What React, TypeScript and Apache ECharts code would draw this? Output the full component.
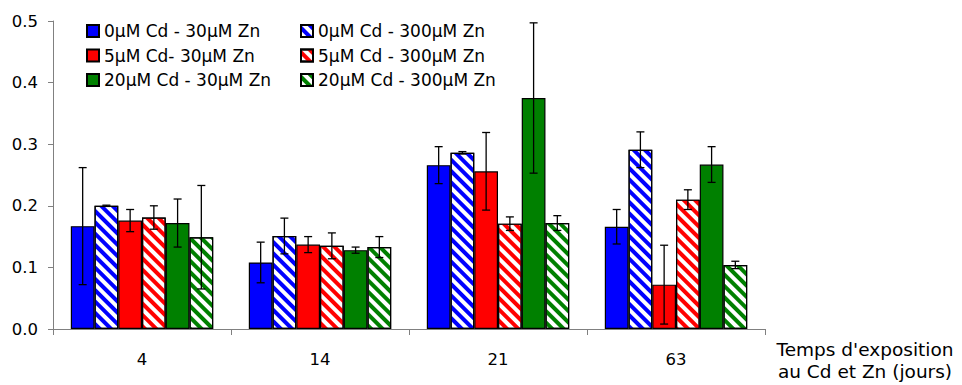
import React, { useEffect, useRef } from "react";
import * as echarts from "echarts";

const categories = ["4", "14", "21", "63"];
const seriesNames = [
  "0µM Cd - 30µM Zn",
  "0µM Cd - 300µM Zn",
  "5µM Cd- 30µM Zn",
  "5µM Cd - 300µM Zn",
  "20µM Cd - 30µM Zn",
  "20µM Cd - 300µM Zn",
];
const cd0zn30 = [0.167, 0.108, 0.266, 0.166];
const cd0zn300 = [0.2, 0.151, 0.286, 0.291];
const cd5zn30 = [0.176, 0.137, 0.256, 0.072];
const cd5zn300 = [0.181, 0.135, 0.171, 0.21];
const cd20zn30 = [0.172, 0.128, 0.375, 0.267];
const cd20zn300 = [0.149, 0.133, 0.172, 0.104];
const err0_30 = [0.095, 0.033, 0.03, 0.028];
const err0_300 = [0.001, 0.029, 0.002, 0.029];
const err5_30 = [0.018, 0.013, 0.063, 0.064];
const err5_300 = [0.019, 0.021, 0.011, 0.016];
const err20_30 = [0.039, 0.005, 0.122, 0.029];
const err20_300 = [0.084, 0.017, 0.012, 0.006];
const yTicks = [0, 0.1, 0.2, 0.3, 0.4, 0.5];
const xAxisTitle = "Temps d'exposition\nau Cd et Zn (jours)";

const FONT = "DejaVu Sans";

export default function App() {
  const ref = useRef<HTMLDivElement>(null);
  useEffect(() => {
    if (!ref.current) return;
    const chart = echarts.init(ref.current, null, { renderer: "svg" });
    const values = [cd0zn30, cd0zn300, cd5zn30, cd5zn300, cd20zn30, cd20zn300];
    const errors = [err0_30, err0_300, err5_30, err5_300, err20_30, err20_300];
    const colors = ["#0000ff", "#0000ff", "#ff0000", "#ff0000", "#008000", "#008000"];
    const hatched = [false, true, false, true, false, true];
    const n = values.length;

    const barSeries = values.map((vals, i) => ({
      name: seriesNames[i],
      type: "bar",
      data: vals,
      barGap: "0%",
      barCategoryGap: "20%",
      itemStyle: hatched[i]
        ? {
            color: "#ffffff",
            borderColor: "#000",
            borderWidth: 1.2,
            decal: {
              symbol: "rect",
              symbolSize: 1,
              color: colors[i],
              dashArrayX: [1, 0],
              dashArrayY: [3.2, 3.2],
              rotation: Math.PI / 4,
            },
          }
        : { color: colors[i], borderColor: "#000", borderWidth: 1.2 },
      z: 2,
    }));

    const errSeries = values.map((vals, i) => ({
      name: "err" + i,
      type: "custom",
      z: 5,
      data: vals.map((v, k) => [k, v - errors[i][k], v + errors[i][k]]),
      renderItem: (params: any, api: any) => {
        const k = api.value(0);
        const lo = api.coord([k, api.value(1)]);
        const hi = api.coord([k, api.value(2)]);
        const band = api.size([1, 0])[0];
        const bw = (band * 0.8) / n;
        const x = lo[0] - (band * 0.8) / 2 + bw * (i + 0.5);
        const cap = 4;
        const st = { stroke: "#000", lineWidth: 1.3 };
        return {
          type: "group",
          children: [
            { type: "line", shape: { x1: x, y1: lo[1], x2: x, y2: hi[1] }, style: st },
            { type: "line", shape: { x1: x - cap, y1: lo[1], x2: x + cap, y2: lo[1] }, style: st },
            { type: "line", shape: { x1: x - cap, y1: hi[1], x2: x + cap, y2: hi[1] }, style: st },
          ],
        };
      },
    }));

    const legendBase = {
      orient: "vertical",
      top: 22.5,
      padding: 0,
      itemWidth: 12,
      itemHeight: 12,
      itemGap: 7.5,
      icon: "rect",
      textStyle: { fontFamily: FONT, fontSize: 17, color: "#000" },
    };

    chart.setOption({
      animation: false,
      backgroundColor: "#fff",
      grid: { left: 53, right: 197, top: 21, bottom: 56, containLabel: false },
      legend: [
        { ...legendBase, left: 86, data: [seriesNames[0], seriesNames[2], seriesNames[4]] },
        { ...legendBase, left: 300, data: [seriesNames[1], seriesNames[3], seriesNames[5]] },
      ],
      xAxis: {
        type: "category",
        data: categories,
        axisLine: { lineStyle: { color: "#808080", width: 1 } },
        axisTick: { show: true, length: 6, lineStyle: { color: "#808080" } },
        axisLabel: { fontFamily: FONT, fontSize: 16.5, color: "#000", margin: 22 },
      },
      yAxis: {
        type: "value",
        min: yTicks[0],
        max: yTicks[yTicks.length - 1],
        interval: 0.1,
        axisLine: { show: true, lineStyle: { color: "#808080", width: 1 } },
        axisTick: { show: true, length: 5, lineStyle: { color: "#808080" } },
        splitLine: { show: false },
        axisLabel: {
          fontFamily: FONT,
          fontSize: 16.5,
          color: "#000",
          margin: 15,
          formatter: (v: number) => v.toFixed(1),
        },
      },
      graphic: [
        {
          type: "text",
          x: 865,
          y: 338,
          style: {
            text: xAxisTitle,
            textAlign: "center",
            textVerticalAlign: "top",
            fontFamily: FONT,
            fontSize: 18.5,
            lineHeight: 22,
            fill: "#000",
          },
        },
      ],
      series: [...barSeries, ...errSeries],
    });
    return () => chart.dispose();
  }, []);
  return (
    <div
      ref={ref}
      style={{ position: "absolute", left: 0, top: 0, width: 962, height: 385 }}
    />
  );
}
